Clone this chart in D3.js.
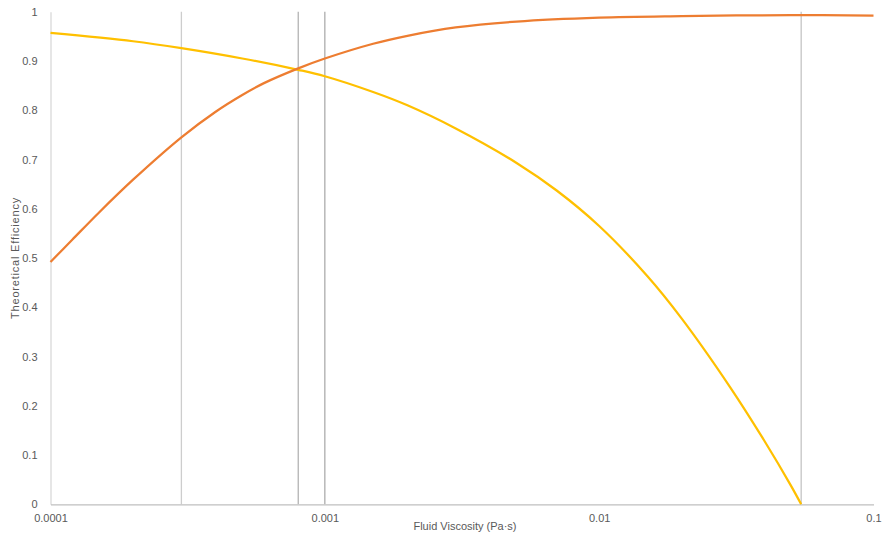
<!DOCTYPE html>
<html>
<head>
<meta charset="utf-8">
<script src="https://cdn.jsdelivr.net/npm/d3@7"></script>
<style>
  html, body { margin: 0; padding: 0; background: #fff; }
  svg { display: block; font-family: "Liberation Sans", Arial, sans-serif; }
</style>
</head>
<body>
<svg id="chart" width="883" height="535"></svg>
<script>
// Viscosity samples (Pa·s) and efficiency of the two curves
const viscOrange = [0.0001, 0.00012, 0.00015, 0.0002, 0.0003, 0.0004, 0.0005, 0.0006, 0.0008, 0.001, 0.0015, 0.002, 0.003, 0.005, 0.01, 0.02, 0.05, 0.1];
const effOrange  = [0.492, 0.537, 0.592, 0.659, 0.745, 0.797, 0.831, 0.855, 0.885, 0.905, 0.935, 0.951, 0.968, 0.980, 0.988, 0.991, 0.993, 0.992];

const viscYellow = [0.0001, 0.0002, 0.0003, 0.0005, 0.0008, 0.001, 0.0015, 0.002, 0.003, 0.005, 0.007, 0.01, 0.015, 0.02, 0.03, 0.04, 0.05, 0.0545];
const effYellow  = [0.957, 0.940, 0.926, 0.905, 0.882, 0.869, 0.837, 0.810, 0.763, 0.693, 0.637, 0.565, 0.463, 0.377, 0.238, 0.129, 0.038, 0.0];

// Vertical marker lines
const markers = [0.0003, 0.0008, 0.001, 0.0545];
const markerColors = ["#cdcdcd", "#b3b3b3", "#adadad", "#c4c4c4"];

// Axis ticks
const xTicks = [0.0001, 0.001, 0.01, 0.1];
const xTickLabels = ["0.0001", "0.001", "0.01", "0.1"];
const yTicks = [0, 0.1, 0.2, 0.3, 0.4, 0.5, 0.6, 0.7, 0.8, 0.9, 1];
const yTickLabels = ["0", "0.1", "0.2", "0.3", "0.4", "0.5", "0.6", "0.7", "0.8", "0.9", "1"];

const xTitle = "Fluid Viscosity (Pa·s)";
const yTitle = "Theoretical Efficiency";

const svg = d3.select("#chart");
const plotLeft = 50.5, plotRight = 873.5, plotTop = 11.7, plotBottom = 504.3;

const x = d3.scaleLog().domain([0.0001, 0.1]).range([plotLeft, plotRight]);
const y = d3.scaleLinear().domain([0, 1]).range([plotBottom, plotTop]);

const textColor = "#595959";
const fontSize = "11px";

// Marker lines
svg.append("g").selectAll("line").data(markers).join("line")
  .attr("x1", d => x(d)).attr("x2", d => x(d))
  .attr("y1", y(1)).attr("y2", y(0))
  .attr("stroke", (d, i) => markerColors[i])
  .attr("stroke-width", 1.3);

// Axes
const yAxis = d3.axisLeft(y).tickValues(yTicks).tickSize(0).tickPadding(13)
  .tickFormat((d, i) => yTickLabels[i]);
const gy = svg.append("g").attr("transform", `translate(${plotLeft},0)`).call(yAxis);
gy.select(".domain").attr("stroke", "#d9d9d9").attr("stroke-width", 1.3);
gy.selectAll("text").attr("fill", textColor).style("font-size", fontSize)
  .style("font-family", "'Liberation Sans', Arial, sans-serif");

const xAxis = d3.axisBottom(x).tickValues(xTicks).tickSize(0).tickPadding(10)
  .tickFormat((d, i) => xTickLabels[i]);
const gx = svg.append("g").attr("transform", `translate(0,${plotBottom})`).call(xAxis);
gx.select(".domain").attr("stroke", "#bfbfbf").attr("stroke-width", 1.3);
gx.selectAll("text").attr("fill", textColor).style("font-size", fontSize)
  .style("font-family", "'Liberation Sans', Arial, sans-serif");

// Smoothed curves
const line = d3.line().x(d => x(d[0])).y(d => y(d[1])).curve(d3.curveCatmullRom.alpha(0.5));
svg.append("path")
  .datum(viscYellow.map((v, i) => [v, effYellow[i]]))
  .attr("d", line).attr("fill", "none")
  .attr("stroke", "#FFC000").attr("stroke-width", 2.25);
svg.append("path")
  .datum(viscOrange.map((v, i) => [v, effOrange[i]]))
  .attr("d", line).attr("fill", "none")
  .attr("stroke", "#ED7D31").attr("stroke-width", 2.25);

// Axis titles
svg.append("text").attr("x", 465).attr("y", 529.5)
  .attr("text-anchor", "middle").attr("fill", textColor)
  .style("font-size", fontSize).text(xTitle);
svg.append("text")
  .attr("transform", "translate(19,258) rotate(-90)")
  .attr("text-anchor", "middle").attr("fill", textColor)
  .style("font-size", fontSize).style("letter-spacing", "0.8px").text(yTitle);
</script>
</body>
</html>
